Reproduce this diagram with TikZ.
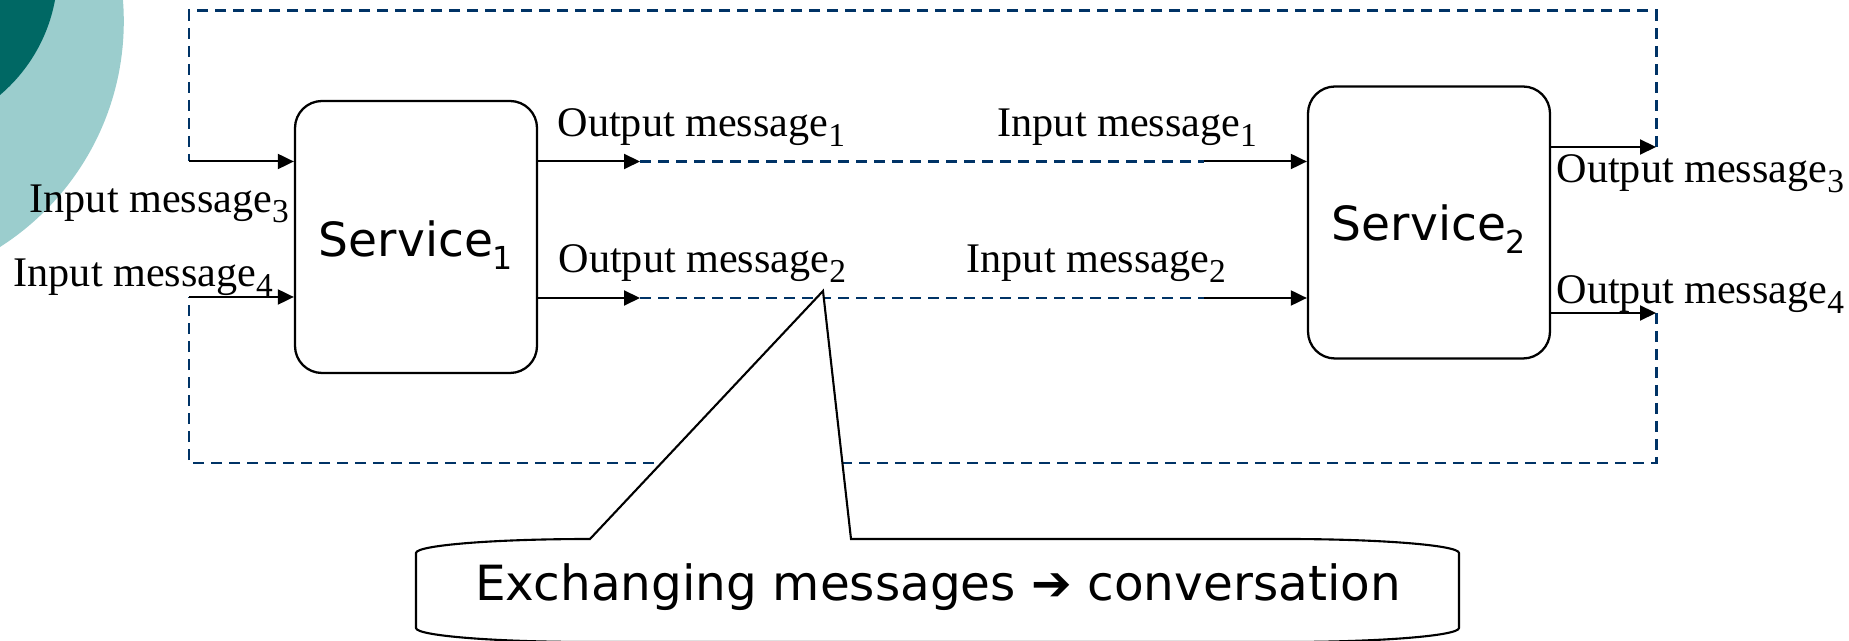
\documentclass[tikz,border=0pt]{standalone}
\usepackage{fontspec}
\setmainfont{Liberation Serif}
\newfontfamily\svcfont{DejaVu Sans}
\usepackage{tikz}
\usetikzlibrary{arrows.meta,calc}
\definecolor{oceanteal}{RGB}{0,104,100}
\definecolor{paleteal}{RGB}{155,205,205}
\definecolor{loopnavy}{RGB}{0,51,102}
\newcommand{\msub}[1]{\raisebox{-2.8pt}{\fontsize{9.5}{10}\selectfont #1}}
\newcommand{\ssub}[1]{\raisebox{-3.7pt}{\fontsize{9}{10}\selectfont #1}}
\tikzset{
  svcbox/.style={draw, line width=0.65pt, rounded corners=2.7mm, minimum width=24.2mm, minimum height=27.2mm, inner sep=0pt},
  svctext/.style={font=\svcfont\fontsize{13.4}{15}\selectfont, inner sep=0pt, anchor=base},
  msglabel/.style={font=\fontsize{12}{14}\selectfont, inner sep=0pt, anchor=base west},
  msgarrow/.style={line width=0.57pt, -{Triangle[length=1.6mm,width=1.5mm]}},
  feedback/.style={loopnavy, line width=0.85pt, dash pattern=on 1.1mm off 0.7mm},
  calloutbox/.style={draw, fill=white, line width=0.6pt, line join=miter}
}

\begin{document}
\begin{tikzpicture}[x=0.1mm, y=-0.1mm]
    \useasboundingbox (0,0) rectangle (1849,641);

    % Corner decoration
    \begin{scope}
        \clip (0,0) rectangle (1849,641);
        \fill[paleteal] (-143.8,21.3) circle (26.76mm);
        \fill[oceanteal] (-105.7,-29.6) circle (16.34mm);
    \end{scope}

    % Services
    \node[svcbox] (s1) at (416,237) {};
    \node[svcbox] (s2) at (1429,222.5) {};
    \node[svctext] (s1text) at ([yshift=-2mm]s1.center) {Service\ssub{1}};
    \node[svctext] (s2text) at ([yshift=-1.85mm]s2.center) {Service\ssub{2}};

    % Connection points
    \coordinate (in3) at (189,161.5);
    \coordinate (in4) at (189,297);
    \coordinate (o1) at (640,161.5);
    \coordinate (i1) at (1204,161.5);
    \coordinate (o2) at (640,298);
    \coordinate (i2) at (1204,298);
    \coordinate (o3) at (1656,147);
    \coordinate (o4) at (1656,313);
    \coordinate (topright) at (1656,11);
    \coordinate (topleft) at (189,11);
    \coordinate (botright) at (1656,463);
    \coordinate (botleft) at (189,463);

    % Feedback loops
    \draw[feedback] (o3) -- (topright) -- (topleft) -- (in3);
    \draw[feedback] (o4) -- (botright) -- (botleft) -- (in4);

    % Exchanged messages
    \draw[feedback] (o1) -- (i1);
    \draw[feedback] (o2) -- (i2);

    % Arrows
    \draw[msgarrow] (in3) -- (in3 -| s1.west);
    \draw[msgarrow] (in4) -- (in4 -| s1.west);
    \draw[msgarrow] (o1 -| s1.east) -- (o1);
    \draw[msgarrow] (o2 -| s1.east) -- (o2);
    \draw[msgarrow] (i1) -- (i1 -| s2.west);
    \draw[msgarrow] (i2) -- (i2 -| s2.west);
    \draw[msgarrow] (o3 -| s2.east) -- (o3);
    \draw[msgarrow] (o4 -| s2.east) -- (o4);

    % Labels
    \node[msglabel] (in3lab) at (29,213) {Input message\msub{3}};
    \node[msglabel] (in4lab) at (13,287) {Input message\msub{4}};
    \node[msglabel] (o1lab) at (557,137) {Output message\msub{1}};
    \node[msglabel] (i1lab) at (997,137) {Input message\msub{1}};
    \node[msglabel] (o2lab) at (558,273) {Output message\msub{2}};
    \node[msglabel] (i2lab) at (966,273) {Input message\msub{2}};
    \node[msglabel] (o3lab) at (1556,183) {Output message\msub{3}};
    \node[msglabel] (o4lab) at (1556,304) {Output message\msub{4}};

    % Callout
    \coordinate (tip) at (823,291);
    \draw[calloutbox] (416,553) arc[start angle=180, end angle=90, x radius=17.4mm, y radius=1.4mm]
        -- (tip) -- (851,539) -- (1285,539)
        arc[start angle=90, end angle=0, x radius=17.4mm, y radius=1.4mm] -- (1459,628)
        arc[start angle=0, end angle=-90, x radius=17.4mm, y radius=1.4mm] -- (590,642)
        arc[start angle=270, end angle=180, x radius=17.4mm, y radius=1.4mm] -- cycle;
    \node[svctext, font=\svcfont\fontsize{13.8}{15}\selectfont] (note) at (938,601) {Exchanging messages ➔ conversation};
\end{tikzpicture}
\end{document}
